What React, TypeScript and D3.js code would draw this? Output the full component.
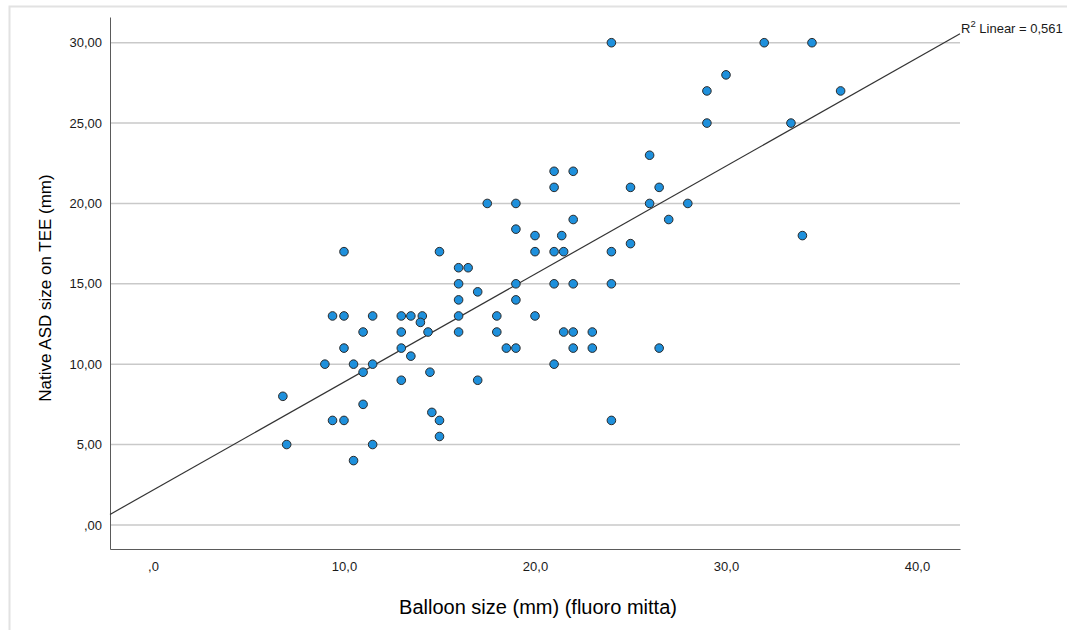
import { useEffect, useRef } from "react";
import * as d3 from "d3";

// Balloon size (mm) (fluoro mitta)
const balloonSize = [
  6.8, 7, 9, 9.4, 9.4, 10, 10, 10, 10, 10.5, 10.5, 11, 11, 11, 11.5, 11.5, 11.5,
  13, 13, 13, 13, 13.5, 13.5, 14.1, 14, 14.4, 14.5, 14.6, 15, 15, 15,
  16, 16.5, 16, 16, 16, 16, 17, 17, 17.5, 18, 18, 18.5,
  19, 19, 19, 19, 19, 20, 20, 20, 21, 21, 21, 21, 21, 21.4, 21.5, 21.5,
  22, 22, 22, 22, 22, 23, 23, 24, 24, 24, 24, 25, 25, 26, 26, 26.5, 26.5,
  27, 28, 29, 29, 30, 32, 33.4, 34, 34.5, 36,
];

// Native ASD size on TEE (mm)
const asdSize = [
  8, 5, 10, 13, 6.5, 17, 13, 11, 6.5, 10, 4, 12, 9.5, 7.5, 13, 10, 5,
  13, 12, 11, 9, 13, 10.5, 13, 12.6, 12, 9.5, 7, 17, 6.5, 5.5,
  16, 16, 15, 14, 13, 12, 14.5, 9, 20, 13, 12, 11,
  20, 18.4, 15, 14, 11, 18, 17, 13, 22, 21, 17, 15, 10, 18, 17, 12,
  22, 19, 15, 12, 11, 12, 11, 30, 17, 15, 6.5, 21, 17.5, 23, 20, 21, 11,
  19, 20, 27, 25, 28, 30, 25, 18, 30, 27,
];

const xTicks = [0, 10, 20, 30, 40];
const yTicks = [0, 5, 10, 15, 20, 25, 30];
const r2Label = "0,561";

const FONT = "'Liberation Sans', Arial, sans-serif";

export default function App() {
  const svgRef = useRef<SVGSVGElement>(null);
  const width = 1067;
  const height = 630;

  useEffect(() => {
    const svg = d3.select(svgRef.current);
    svg.selectAll("*").remove();

    const left = 110, right = 960, top = 17, bottom = 549;

    const xScale = d3.scaleLinear().domain([-2.25, 42.25]).range([left, right]);
    const yScale = d3.scaleLinear().domain([-1.5, 31.6]).range([bottom, top]);

    const locale = d3.formatLocale({ decimal: ",", thousands: ".", grouping: [3], currency: ["", ""] });
    const fmtX = (v: number) => locale.format(".1f")(v).replace(/^0,/, ",");
    const fmtY = (v: number) => locale.format(".2f")(v).replace(/^0,/, ",");

    // outer frame
    svg.append("rect")
      .attr("x", 9.5).attr("y", 6.5)
      .attr("width", 1200).attr("height", 800)
      .attr("fill", "none")
      .attr("stroke", "#e2e2e2")
      .attr("stroke-width", 2);

    // gridlines
    svg.append("g")
      .selectAll("line")
      .data(yTicks)
      .join("line")
      .attr("x1", left).attr("x2", right)
      .attr("y1", d => yScale(d)).attr("y2", d => yScale(d))
      .attr("stroke", "#c9c9c9")
      .attr("stroke-width", 1.5);

    // y axis
    const yAxis = svg.append("g")
      .attr("transform", `translate(${left},0)`)
      .call(d3.axisLeft(yScale).tickValues(yTicks).tickFormat(d => fmtY(+d)).tickSize(0).tickPadding(8));
    yAxis.select(".domain").attr("stroke", "#5a5a5a");
    yAxis.selectAll("text").attr("font-family", FONT).attr("font-size", 13).attr("fill", "#1a1a1a");

    // x axis
    const xAxis = svg.append("g")
      .attr("transform", `translate(0,${bottom})`)
      .call(d3.axisBottom(xScale).tickValues(xTicks).tickFormat(d => fmtX(+d)).tickSize(0).tickPadding(13));
    xAxis.select(".domain").attr("stroke", "#5a5a5a");
    xAxis.selectAll("text").attr("font-family", FONT).attr("font-size", 13).attr("fill", "#1a1a1a");

    // fit line
    const xm = d3.mean(balloonSize) as number;
    const ym = d3.mean(asdSize) as number;
    let sxy = 0, sxx = 0;
    balloonSize.forEach((x, i) => {
      sxy += (x - xm) * (asdSize[i] - ym);
      sxx += (x - xm) * (x - xm);
    });
    const slope = sxy / sxx;
    const intercept = ym - slope * xm;
    const [x0, x1] = xScale.domain();
    const line = d3.line<number>().x(d => xScale(d)).y(d => yScale(intercept + slope * d));
    svg.append("path")
      .datum([x0, x1])
      .attr("d", line)
      .attr("fill", "none")
      .attr("stroke", "#333")
      .attr("stroke-width", 1.2);

    // points
    svg.append("g")
      .selectAll("circle")
      .data(balloonSize.map((x, i) => [x, asdSize[i]]))
      .join("circle")
      .attr("cx", d => xScale(d[0]))
      .attr("cy", d => yScale(d[1]))
      .attr("r", 4.3)
      .attr("fill", "#1e90dc")
      .attr("stroke", "#2a2a2a")
      .attr("stroke-width", 1);

    // R2 label
    const r2 = svg.append("text")
      .attr("x", 961).attr("y", 33)
      .attr("font-family", FONT).attr("font-size", 13).attr("fill", "#1a1a1a");
    r2.append("tspan").text("R");
    r2.append("tspan").attr("dy", -6).attr("font-size", 9.5).text("2");
    r2.append("tspan").attr("dy", 6).text(` Linear = ${r2Label}`);

    // axis titles
    svg.append("text")
      .attr("x", 538).attr("y", 614)
      .attr("text-anchor", "middle")
      .attr("font-family", FONT).attr("font-size", 20).attr("fill", "#000")
      .text("Balloon size (mm) (fluoro mitta)");

    svg.append("text")
      .attr("transform", `translate(51,288) rotate(-90)`)
      .attr("text-anchor", "middle")
      .attr("font-family", FONT).attr("font-size", 17).attr("fill", "#000")
      .text("Native ASD size on TEE (mm)");
  }, []);

  return (
    <svg
      ref={svgRef}
      width={width}
      height={height}
      style={{ position: "absolute", left: 0, top: 0, background: "#fff" }}
    ></svg>
  );
}
